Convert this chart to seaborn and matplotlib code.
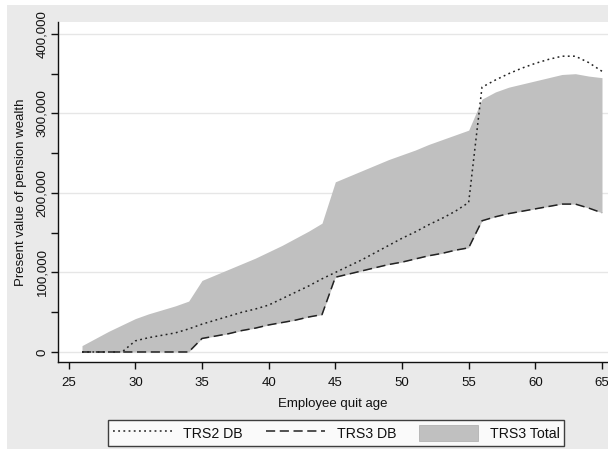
import matplotlib
matplotlib.use("Agg")
import matplotlib.pyplot as plt
from matplotlib.patches import Rectangle, Patch
from matplotlib.lines import Line2D
from matplotlib.ticker import FuncFormatter, MultipleLocator
import seaborn as sns
import pandas as pd
import numpy as np

ages = list(range(26, 66))
trs2_db = [0, 0, 0, 0, 14, 18, 21, 24, 29, 35, 40, 45, 50, 54, 59, 67, 75, 83, 92,
           100, 108, 116, 125, 134, 143, 151, 160, 168, 177, 188,
           333, 342, 350, 357, 363, 368, 372, 372, 364, 353]
trs3_db = [0, 0, 0, 0, 0, 0, 0, 0, 0, 17, 20, 23, 27, 30, 34, 37, 40, 44, 47,
           94, 98, 102, 106, 110, 113, 117, 121, 124, 128, 131,
           165, 170, 174, 177, 180, 183, 186, 186, 181, 175]
trs3_total = [8, 17, 26, 34, 42, 48, 53, 58, 64, 90, 97, 104, 111, 118, 126, 134, 143, 152, 162,
              214, 221, 228, 235, 242, 248, 254, 261, 267, 273, 279,
              318, 327, 333, 337, 341, 345, 349, 350, 347, 345]
series_labels = ["TRS2 DB", "TRS3 DB", "TRS3 Total"]

df = pd.DataFrame({
    "age": ages,
    "trs2": np.array(trs2_db) * 1000,
    "trs3": np.array(trs3_db) * 1000,
    "total": np.array(trs3_total) * 1000,
})

sns.set_theme(style="white")
plt.rcParams["font.family"] = ["Liberation Sans", "DejaVu Sans"]

W, H = 608, 449
fig = plt.figure(figsize=(W / 100, H / 100), dpi=100, facecolor="white")
fig.patches.append(Rectangle((7 / W, 0), 1 - 7 / W, 1 - 5 / H, transform=fig.transFigure,
                             facecolor="#eaeaea", edgecolor="none", zorder=-10))

ax = fig.add_axes([58 / W, (H - 362) / H, (W - 58) / W, (362 - 22) / H])
ax.set_facecolor("white")

ax.fill_between(df["age"], df["trs3"], df["total"], color="#c0c0c0", linewidth=0, zorder=2)
sns.lineplot(data=df, x="age", y="trs2", ax=ax, color="#222222", linewidth=1.1,
             linestyle=(0, (1.2, 2.2)), zorder=3, legend=False)
sns.lineplot(data=df, x="age", y="trs3", ax=ax, color="#222222", linewidth=1.1,
             linestyle=(0, (6, 3)), zorder=3, legend=False)

ax.set_xlim(24.2, 65.45)
ax.set_ylim(-12600, 415000)
ax.set_xticks([25, 30, 35, 40, 45, 50, 55, 60, 65])
ax.yaxis.set_major_locator(MultipleLocator(100000))
ax.yaxis.set_minor_locator(MultipleLocator(50000))
ax.yaxis.set_major_formatter(FuncFormatter(lambda v, p: f"{int(v):,}"))
ax.grid(axis="y", which="major", color="#e6e6e6", linewidth=1.0, zorder=0)
ax.set_axisbelow(True)

for s in ["top", "right"]:
    ax.spines[s].set_visible(False)
for s in ["left", "bottom"]:
    ax.spines[s].set_color("#111111")
    ax.spines[s].set_linewidth(1.0)

ax.tick_params(axis="x", which="major", direction="out", length=5, width=1,
               color="#111111", labelsize=9.5, labelcolor="#111111", bottom=True, pad=6)
ax.tick_params(axis="y", which="major", direction="out", length=5, width=1,
               color="#111111", labelsize=9.5, labelcolor="#111111", left=True, pad=2)
ax.tick_params(axis="y", which="minor", direction="out", length=5, width=1,
               color="#111111", left=True)
for lab in ax.get_yticklabels():
    lab.set_rotation(90)
    lab.set_va("center")

ax.set_xlabel("Employee quit age", fontsize=9.5, color="#111111", labelpad=6)
ax.set_ylabel("Present value of pension wealth", fontsize=9.5, color="#111111", labelpad=7)

handles = [
    Line2D([], [], color="#222222", linewidth=1.1, linestyle=(0, (1.2, 2.2))),
    Line2D([], [], color="#222222", linewidth=1.1, linestyle=(0, (6, 3))),
    Patch(facecolor="#c0c0c0", edgecolor="#aaaaaa", linewidth=0.5),
]
leg = fig.legend(handles, series_labels, loc="center", ncol=3,
                 bbox_to_anchor=(336 / W, 1 - 433 / H), frameon=True, fancybox=False,
                 edgecolor="#111111", facecolor="white", fontsize=10.2,
                 handlelength=4.2, handleheight=1.45, columnspacing=1.6, handletextpad=0.8,
                 borderpad=0.3, borderaxespad=0)
leg.get_frame().set_linewidth(1.0)
for t in leg.get_texts():
    t.set_color("#111111")

fig.savefig("out.png", dpi=100, facecolor="white")
